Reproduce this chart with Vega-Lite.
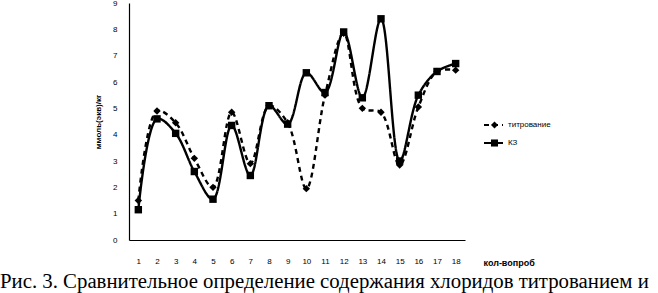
{
  "$schema": "https://vega.github.io/schema/vega-lite/v6.json",
  "autosize": "none",
  "width": 336,
  "height": 237,
  "padding": {"left": 129, "top": 3, "right": 193, "bottom": 53},
  "background": "white",
  "config": {"view": {"stroke": null}, "font": "Liberation Sans", "title": {"font": "Liberation Serif"}},
  "title": {
    "text": "Рис. 3. Сравнительное определение содержания хлоридов титрованием и",
    "orient": "bottom",
    "anchor": "start",
    "frame": "group",
    "dx": -129,
    "offset": 5,
    "font": "Liberation Serif",
    "fontSize": 20.8,
    "fontWeight": "normal",
    "color": "black"
  },
  "data": {
    "values": [
      {"n": 1, "s": "титрование", "v": 1.5}, {"n": 2, "s": "титрование", "v": 4.9},
      {"n": 3, "s": "титрование", "v": 4.45}, {"n": 4, "s": "титрование", "v": 3.1},
      {"n": 5, "s": "титрование", "v": 2.0}, {"n": 6, "s": "титрование", "v": 4.85},
      {"n": 7, "s": "титрование", "v": 2.9}, {"n": 8, "s": "титрование", "v": 5.1},
      {"n": 9, "s": "титрование", "v": 4.45}, {"n": 10, "s": "титрование", "v": 1.95},
      {"n": 11, "s": "титрование", "v": 5.5}, {"n": 12, "s": "титрование", "v": 7.85},
      {"n": 13, "s": "титрование", "v": 5.0}, {"n": 14, "s": "титрование", "v": 4.85},
      {"n": 15, "s": "титрование", "v": 2.85}, {"n": 16, "s": "титрование", "v": 5.05},
      {"n": 17, "s": "титрование", "v": 6.4}, {"n": 18, "s": "титрование", "v": 6.45},
      {"n": 1, "s": "КЗ", "v": 1.15}, {"n": 2, "s": "КЗ", "v": 4.6},
      {"n": 3, "s": "КЗ", "v": 4.05}, {"n": 4, "s": "КЗ", "v": 2.6},
      {"n": 5, "s": "КЗ", "v": 1.55}, {"n": 6, "s": "КЗ", "v": 4.35},
      {"n": 7, "s": "КЗ", "v": 2.45}, {"n": 8, "s": "КЗ", "v": 5.1},
      {"n": 9, "s": "КЗ", "v": 4.4}, {"n": 10, "s": "КЗ", "v": 6.35},
      {"n": 11, "s": "КЗ", "v": 5.6}, {"n": 12, "s": "КЗ", "v": 7.9},
      {"n": 13, "s": "КЗ", "v": 5.4}, {"n": 14, "s": "КЗ", "v": 8.4},
      {"n": 15, "s": "КЗ", "v": 3.0}, {"n": 16, "s": "КЗ", "v": 5.5},
      {"n": 17, "s": "КЗ", "v": 6.4}, {"n": 18, "s": "КЗ", "v": 6.7}
    ]
  },
  "encoding": {
    "x": {
      "field": "n", "type": "ordinal",
      "scale": {"type": "point", "padding": 0.5},
      "axis": {
        "labelAngle": 0, "ticks": false, "grid": false, "domainColor": "black", "domainWidth": 1.2,
        "labelFontSize": 8, "labelColor": "black", "labelPadding": 17,
        "title": "кол-вопроб", "titleFontSize": 9, "titleFontWeight": "bold", "titleColor": "black",
        "titleX": 354, "titleY": 25, "titleAlign": "left", "titleBaseline": "alphabetic", "titleAnchor": "start"
      }
    },
    "y": {
      "field": "v", "type": "quantitative",
      "scale": {"domain": [0, 9], "nice": false},
      "axis": {
        "values": [0,1,2,3,4,5,6,7,8,9], "ticks": false, "grid": false, "domainColor": "black", "domainWidth": 1.2,
        "labelFontSize": 8, "labelColor": "black", "labelPadding": 12,
        "title": "ммоль(экв)/кг", "titleFontSize": 8, "titleFontWeight": "bold", "titleColor": "black", "titlePadding": 10
      }
    }
  },
  "layer": [
    {
      "mark": {"type": "line", "interpolate": "catmull-rom", "color": "black", "strokeWidth": 2.4},
      "encoding": {
        "strokeDash": {
          "field": "s", "type": "nominal",
          "scale": {"domain": ["титрование", "КЗ"], "range": [[5, 4], [1, 0]]},
          "legend": {
            "title": null, "orient": "none", "legendX": 354, "legendY": 116,
            "labelFontSize": 8, "labelColor": "black", "labelOffset": 4,
            "clipHeight": 12, "rowPadding": 6,
            "symbolType": "stroke", "symbolSize": 361, "symbolStrokeWidth": 2, "symbolStrokeColor": "black"
          }
        }
      }
    },
    {
      "mark": {"type": "point", "filled": true, "color": "black", "opacity": 1, "size": 55},
      "encoding": {
        "shape": {
          "field": "s", "type": "nominal",
          "scale": {"domain": ["КЗ", "титрование"], "range": ["square", "diamond"]},
          "legend": {
            "title": null, "orient": "none", "legendX": 361, "legendY": 116,
            "values": ["титрование", "КЗ"],
            "labelFontSize": 8, "labelExpr": "''", "clipHeight": 12, "rowPadding": 6,
            "symbolFillColor": "black", "symbolStrokeColor": "black", "symbolSize": 50
          }
        }
      }
    }
  ]
}
